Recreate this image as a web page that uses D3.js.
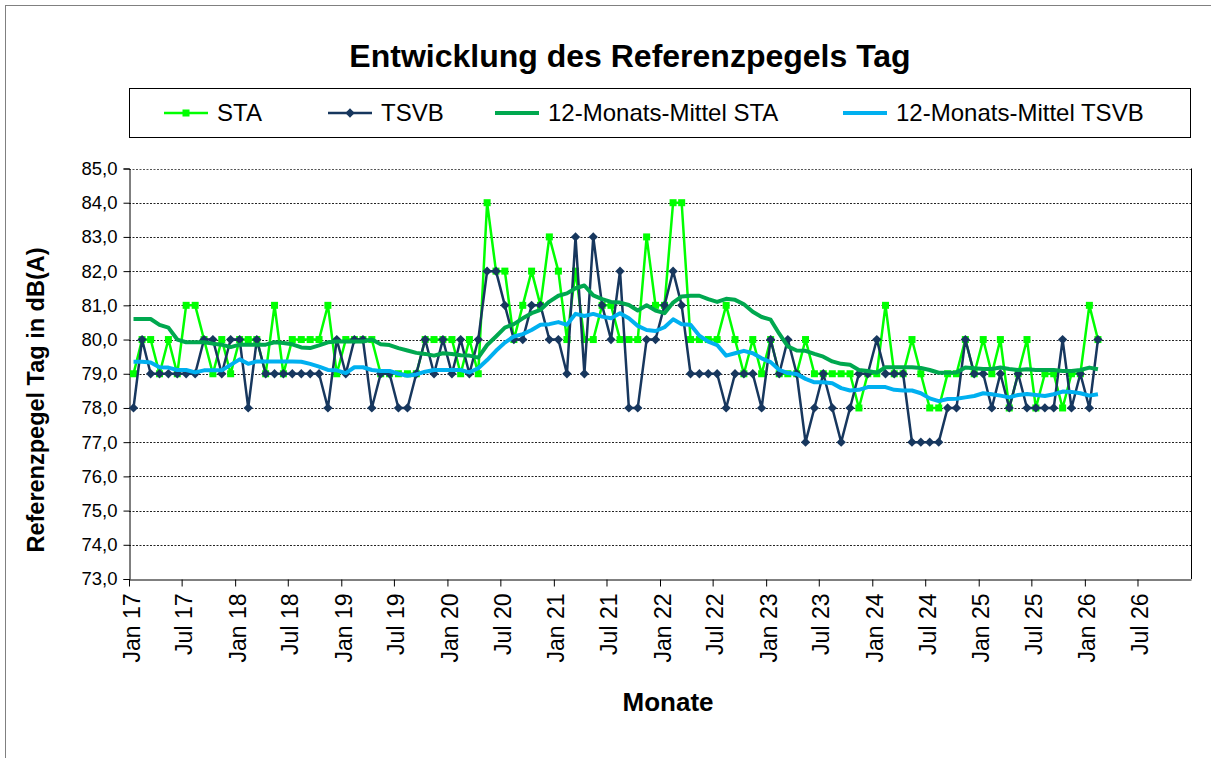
<!DOCTYPE html>
<html>
<head>
<meta charset="utf-8">
<script src="https://cdn.jsdelivr.net/npm/d3@7"></script>
<style>
  body { margin: 0; background: #fff; }
  svg { display: block; font-family: Arial, "Liberation Sans", sans-serif; }
</style>
</head>
<body>
<div id="main"></div>
<script>
const width = 1211;
const height = 758;

// monthly values Jan 17 .. Feb 26
const firstMonth = new Date(2017, 0, 1);
const months = d3.timeMonth.range(firstMonth, new Date(2026, 2, 1));

const sta = [
  79,80,80,79,80,79,81,81,80,79,80,79,
  80,80,80,79,81,79,80,80,80,80,81,79,
  80,80,80,80,79,79,79,79,79,80,80,80,
  80,79,80,79,84,82,82,80,81,82,81,83,
  82,80,82,80,80,81,81,80,80,80,83,81,
  81,84,84,80,80,80,80,81,80,79,80,79,
  80,79,79,79,80,79,79,79,79,79,78,79,
  79,81,79,79,80,79,78,78,79,79,80,79,
  80,79,80,78,79,80,78,79,79,78,79,79,
  81,80
];

const tsvb = [
  78,80,79,79,79,79,79,79,80,80,79,80,
  80,78,80,79,79,79,79,79,79,79,78,80,
  79,80,80,78,79,79,78,78,79,80,79,80,
  79,80,79,80,82,82,81,80,80,81,81,80,
  80,79,83,79,83,81,80,82,78,78,80,80,
  81,82,81,79,79,79,79,78,79,79,79,78,
  80,79,80,79,77,78,79,78,77,78,79,79,
  80,79,79,79,77,77,77,77,78,78,80,79,
  79,78,79,78,79,78,78,78,78,80,78,79,
  78,80
];

const staMean = [
  80.6,80.6,80.6,80.43,80.35,80.0,79.92,79.92,79.92,79.88,79.85,79.78,
  79.85,79.85,79.85,79.85,79.92,79.9,79.86,79.77,79.75,79.83,79.92,79.94,
  79.94,79.94,79.94,80.0,79.86,79.84,79.75,79.68,79.61,79.58,79.53,79.6,
  79.58,79.54,79.53,79.47,79.84,80.09,80.35,80.45,80.62,80.77,80.87,81.11,
  81.28,81.35,81.5,81.58,81.29,81.18,81.1,81.08,81.01,80.85,81.0,80.85,
  80.77,81.08,81.26,81.28,81.28,81.18,81.1,81.19,81.16,81.03,80.81,80.66,
  80.58,80.17,79.8,79.68,79.67,79.58,79.5,79.36,79.29,79.26,79.11,79.08,
  79.03,79.19,79.19,79.19,79.19,79.17,79.11,79.03,79.03,79.04,79.18,79.16,
  79.14,79.14,79.18,79.14,79.11,79.13,79.11,79.11,79.11,79.08,79.08,79.11,
  79.18,79.13
];

const tsvbMean = [
  79.35,79.35,79.33,79.19,79.18,79.11,79.11,79.04,79.1,79.1,79.1,79.26,
  79.42,79.29,79.36,79.36,79.36,79.36,79.36,79.35,79.29,79.21,79.11,79.1,
  79.02,79.19,79.19,79.11,79.08,79.08,79.0,78.94,78.98,79.06,79.11,79.11,
  79.11,79.11,79.04,79.16,79.4,79.67,79.91,80.09,80.16,80.28,80.43,80.45,
  80.51,80.43,80.75,80.69,80.75,80.67,80.62,80.77,80.62,80.4,80.28,80.25,
  80.36,80.59,80.45,80.43,80.11,79.94,79.84,79.53,79.6,79.67,79.6,79.45,
  79.34,79.11,79.02,78.99,78.85,78.75,78.75,78.72,78.58,78.51,78.53,78.61,
  78.61,78.61,78.53,78.51,78.51,78.43,78.28,78.2,78.26,78.27,78.31,78.35,
  78.43,78.4,78.36,78.31,78.38,78.41,78.38,78.35,78.4,78.48,78.47,78.43,
  78.36,78.4
];

const yTicks = [73,74,75,76,77,78,79,80,81,82,83,84,85];
const xTicks = d3.timeMonth.range(firstMonth, new Date(2027, 0, 1), 6);

const seriesNames = ["STA", "TSVB", "12-Monats-Mittel STA", "12-Monats-Mittel TSVB"];

const green = "#00ff00";
const navy = "#17375e";
const darkGreen = "#00a84f";
const lightBlue = "#00b0f0";

const de = d3.formatLocale({decimal: ",", thousands: ".", grouping: [3], currency: ["", " €"]});
const fmtY = de.format(".1f");
const fmtX = d3.timeFormat("%b %y");

const svg = d3.select("#main")
  .append("svg")
  .attr("width", width)
  .attr("height", height);

svg.append("rect")
  .attr("width", width).attr("height", height)
  .attr("fill", "#fff");

// chart border
svg.append("rect")
  .attr("x", 5.5).attr("y", 5.5)
  .attr("width", width + 10).attr("height", height + 10)
  .attr("fill", "none")
  .attr("stroke", "#808080")
  .attr("stroke-width", 1);

const plotLeft = 129, plotRight = 1191, plotTop = 168.5, plotBottom = 579;

const x = d3.scaleTime()
  .domain([firstMonth, new Date(2027, 0, 1)])
  .range([plotLeft, plotRight]);

const y = d3.scaleLinear()
  .domain([73, 85])
  .range([plotBottom, plotTop]);

// points sit in the middle of their month
const px = (d, i) => (x(months[i]) + x(d3.timeMonth.offset(months[i], 1))) / 2;

// title
svg.append("text")
  .attr("x", 630).attr("y", 67)
  .attr("text-anchor", "middle")
  .style("font-size", "32px")
  .style("font-weight", "bold")
  .text("Entwicklung des Referenzpegels Tag");

// gridlines
svg.append("g")
  .selectAll("line")
  .data(yTicks.filter(v => v > 73))
  .join("line")
  .attr("x1", plotLeft).attr("x2", plotRight)
  .attr("y1", d => Math.round(y(d)) + 0.5)
  .attr("y2", d => Math.round(y(d)) + 0.5)
  .attr("stroke", d => d == 85 ? "#555" : "#222")
  .attr("stroke-width", 1)
  .attr("stroke-dasharray", "2,1.5");

// right border of plot area
svg.append("line")
  .attr("x1", plotRight + 0.5).attr("x2", plotRight + 0.5)
  .attr("y1", plotTop).attr("y2", plotBottom)
  .attr("stroke", "#000");

// y axis
const yAxis = svg.append("g")
  .attr("transform", "translate(" + (plotLeft + 0.5) + ",0)")
  .call(d3.axisLeft(y).tickValues(yTicks).tickFormat(fmtY).tickSize(6).tickPadding(6));
yAxis.selectAll("text")
  .style("font-size", "18.5px")
  .attr("fill", "#000")
  .attr("font-family", null);
yAxis.selectAll("line, path").attr("stroke", "#000");

// x axis
const xAxis = svg.append("g")
  .attr("transform", "translate(0," + (plotBottom + 0.5) + ")")
  .call(d3.axisBottom(x).tickValues(xTicks).tickFormat(fmtX).tickSize(7).tickSizeOuter(0));
xAxis.selectAll("text")
  .style("font-size", "23px")
  .attr("fill", "#000")
  .attr("font-family", null)
  .attr("transform", "rotate(-90)")
  .attr("text-anchor", "end")
  .attr("x", -14)
  .attr("y", 2)
  .attr("dy", "0.35em");
xAxis.selectAll("line, path").attr("stroke", "#000");

// axis titles
svg.append("text")
  .attr("transform", "translate(44,400) rotate(-90)")
  .attr("text-anchor", "middle")
  .style("font-size", "23.5px")
  .style("font-weight", "bold")
  .text("Referenzpegel Tag in dB(A)");

svg.append("text")
  .attr("x", 668).attr("y", 711)
  .attr("text-anchor", "middle")
  .style("font-size", "26px")
  .style("font-weight", "bold")
  .text("Monate");

// series
const line = d3.line().x(px).y(d => y(d));

function drawLine(values, color, w) {
  svg.append("path")
    .datum(values)
    .attr("d", line)
    .attr("fill", "none")
    .attr("stroke", color)
    .attr("stroke-width", w)
    .attr("stroke-linejoin", "round");
}

drawLine(sta, green, 2.5);
svg.append("g").selectAll("rect")
  .data(sta)
  .join("rect")
  .attr("x", (d, i) => px(d, i) - 3.5)
  .attr("y", d => y(d) - 3.5)
  .attr("width", 7).attr("height", 7)
  .attr("fill", green);

drawLine(tsvb, navy, 2.5);
svg.append("g").selectAll("path")
  .data(tsvb)
  .join("path")
  .attr("d", d3.symbol(d3.symbolDiamond2, 55))
  .attr("transform", (d, i) => "translate(" + px(d, i) + "," + y(d) + ")")
  .attr("fill", navy);

drawLine(staMean, darkGreen, 4);
drawLine(tsvbMean, lightBlue, 4);

// legend
const legend = svg.append("g");
legend.append("rect")
  .attr("x", 129.5).attr("y", 88.5)
  .attr("width", 1061).attr("height", 49)
  .attr("fill", "#fff")
  .attr("stroke", "#000");

const legendX = [164, 328, 495, 843];
const legendColors = [green, navy, darkGreen, lightBlue];
const legendW = [2.5, 2.5, 4, 4];

seriesNames.forEach((name, i) => {
  const lx = legendX[i];
  legend.append("line")
    .attr("x1", lx).attr("x2", lx + 44)
    .attr("y1", 113).attr("y2", 113)
    .attr("stroke", legendColors[i])
    .attr("stroke-width", legendW[i]);
  if (i == 0) {
    legend.append("rect")
      .attr("x", lx + 22 - 3.5).attr("y", 113 - 3.5)
      .attr("width", 7).attr("height", 7)
      .attr("fill", green);
  }
  if (i == 1) {
    legend.append("path")
      .attr("d", d3.symbol(d3.symbolDiamond2, 55))
      .attr("transform", "translate(" + (lx + 22) + ",113)")
      .attr("fill", navy);
  }
  legend.append("text")
    .attr("x", lx + 53).attr("y", 113)
    .attr("dy", "0.35em")
    .style("font-size", "24px")
    .text(name);
});
</script>
</body>
</html>
